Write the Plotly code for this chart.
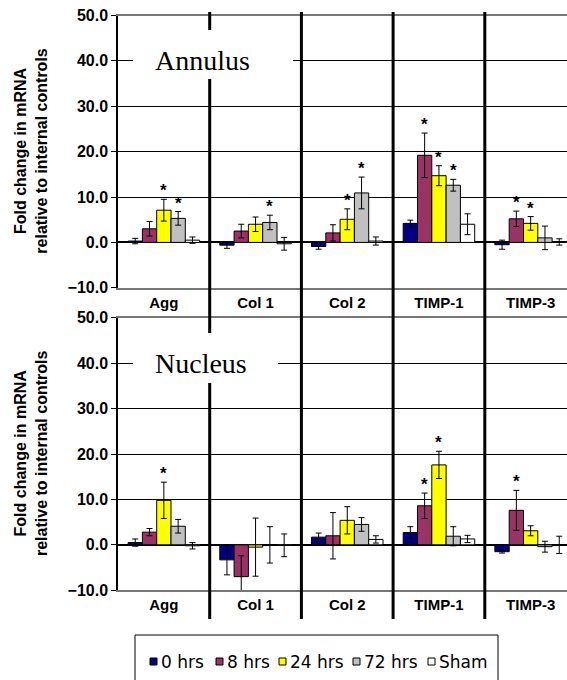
import plotly.graph_objects as go

# ---------------- data ----------------
categories = ["Agg", "Col 1", "Col 2", "TIMP-1", "TIMP-3"]
series_names = ["0 hrs", "8 hrs", "24 hrs", "72 hrs", "Sham"]
y_ticks = [-10, 0, 10, 20, 30, 40, 50]

# Annulus panel
annulus_0h = [0.3, -0.6, -0.9, 4.2, -0.5]
annulus_8h = [3.0, 2.5, 2.1, 19.2, 5.2]
annulus_24h = [7.1, 4.0, 5.1, 14.7, 4.2]
annulus_72h = [5.3, 4.4, 10.9, 12.6, 1.0]
annulus_sham = [0.5, -0.3, 0.3, 4.0, 0.1]
annulus_0h_err = [0.6, 0.7, 0.6, 0.7, 1.0]
annulus_8h_err = [1.6, 1.5, 1.8, 4.9, 1.7]
annulus_24h_err = [2.4, 1.6, 2.3, 2.2, 1.5]
annulus_72h_err = [1.5, 1.6, 3.5, 1.3, 2.6]
annulus_sham_err = [0.7, 1.4, 0.9, 2.3, 0.7]
annulus_0h_sig = [False, False, False, False, False]
annulus_8h_sig = [False, False, False, True, True]
annulus_24h_sig = [True, False, True, True, True]
annulus_72h_sig = [True, True, True, True, False]
annulus_sham_sig = [False, False, False, False, False]

# Nucleus panel
nucleus_0h = [0.5, -3.3, 1.7, 2.7, -1.5]
nucleus_8h = [2.8, -7.0, 2.0, 8.6, 7.6]
nucleus_24h = [9.8, -0.5, 5.4, 17.6, 3.1]
nucleus_72h = [4.1, 0.0, 4.5, 1.9, -0.4]
nucleus_sham = [-0.2, -0.1, 1.2, 1.3, 0.0]
nucleus_0h_err = [0.8, 3.3, 0.9, 1.3, 0.3]
nucleus_8h_err = [0.8, 4.6, 5.1, 2.8, 4.4]
nucleus_24h_err = [4.0, 6.4, 3.0, 3.0, 1.1]
nucleus_72h_err = [1.5, 4.0, 1.5, 2.1, 1.2]
nucleus_sham_err = [0.7, 2.5, 0.8, 0.8, 1.9]
nucleus_0h_sig = [False, False, False, False, False]
nucleus_8h_sig = [False, False, False, True, True]
nucleus_24h_sig = [True, False, False, True, False]
nucleus_72h_sig = [False, False, False, False, False]
nucleus_sham_sig = [False, False, False, False, False]

# ---------------- style ----------------
colors = ["#000080", "#993366", "#FFFF00", "#C0C0C0", "#FFFFFF"]
W, H = 567, 680
L = 118
BARGAP = 0.22
SANS = "Liberation Sans"

def px_x(px):
    return (px - L) / (W - L)

def px_y(py):
    return 1 - py / H

panels = [
    dict(label="Annulus", xa="x", ya="y",
         values=[annulus_0h, annulus_8h, annulus_24h, annulus_72h, annulus_sham],
         errs=[annulus_0h_err, annulus_8h_err, annulus_24h_err, annulus_72h_err, annulus_sham_err],
         sig=[annulus_0h_sig, annulus_8h_sig, annulus_24h_sig, annulus_72h_sig, annulus_sham_sig],
         top=15.5, bottom=287.8, label_pos=(202.5, 60), box=(133, 30, 293, 79)),
    dict(label="Nucleus", xa="x2", ya="y2",
         values=[nucleus_0h, nucleus_8h, nucleus_24h, nucleus_72h, nucleus_sham],
         errs=[nucleus_0h_err, nucleus_8h_err, nucleus_24h_err, nucleus_72h_err, nucleus_sham_err],
         sig=[nucleus_0h_sig, nucleus_8h_sig, nucleus_24h_sig, nucleus_72h_sig, nucleus_sham_sig],
         top=317.7, bottom=590.3, label_pos=(200.5, 363), box=(133, 333, 278, 383)),
]

fig = go.Figure()
annotations = []
shapes = []

n_series = len(series_names)
bar_w = (1 - BARGAP) / n_series

for p in panels:
    for i in range(n_series):
        fig.add_trace(go.Bar(
            x=categories, y=p["values"][i], name=series_names[i],
            xaxis=p["xa"], yaxis=p["ya"], showlegend=False,
            marker=dict(color=colors[i], line=dict(color="black", width=1)),
            error_y=dict(type="data", array=p["errs"][i], color="black",
                         thickness=1, width=3),
        ))
        for j, c in enumerate(categories):
            if p["sig"][i][j]:
                annotations.append(dict(
                    x=j - (1 - BARGAP) / 2 + bar_w * (i + 0.5),
                    y=p["values"][i][j] + p["errs"][i][j],
                    xref=p["xa"], yref=p["ya"], text="*", showarrow=False,
                    yanchor="bottom", yshift=-3,
                    font=dict(family=SANS, size=17, color="black", weight="bold"),
                ))

xaxis_common = dict(
    type="category", range=[-0.5, -0.5 + (W - L) / 91.7],
    showline=True, mirror=True, linecolor="#777777", linewidth=2,
    ticks="", showgrid=False, zeroline=False, automargin=False,
    tickfont=dict(family=SANS, size=15, color="black", weight="bold"),
)
yaxis_common = dict(
    range=[-10, 50], tickvals=y_ticks, tickformat=".1f",
    ticks="outside", ticklen=5, tickcolor="black", tickwidth=1,
    showline=True, linecolor="black", linewidth=1.5,
    showgrid=True, gridcolor="black", gridwidth=1,
    zeroline=True, zerolinecolor="black", zerolinewidth=2, automargin=False,
    tickfont=dict(family=SANS, size=16, color="black", weight="bold"),
)

layout_axes = {}
for p in panels:
    xkey = "xaxis" if p["xa"] == "x" else "xaxis2"
    ykey = "yaxis" if p["ya"] == "y" else "yaxis2"
    dom = [px_y(p["bottom"]), px_y(p["top"])]
    layout_axes[xkey] = dict(xaxis_common, anchor=p["ya"], domain=[0, 1])
    layout_axes[ykey] = dict(yaxis_common, anchor=p["xa"], domain=dom)

# category separators (continuous through both panels)
for k in range(len(categories) - 1):
    shapes.append(dict(type="line", xref="x", yref="paper",
                       x0=k + 0.5, x1=k + 0.5, y0=px_y(12), y1=px_y(619),
                       line=dict(color="black", width=3), layer="above"))

for p in panels:
    x0, y0, x1, y1 = p["box"]
    shapes.append(dict(type="rect", xref="paper", yref="paper",
                       x0=px_x(x0), x1=px_x(x1), y0=px_y(y1), y1=px_y(y0),
                       fillcolor="white", line=dict(width=0), layer="above"))
    lx, ly = p["label_pos"]
    annotations.append(dict(x=px_x(lx), y=px_y(ly), xref="paper", yref="paper",
                            text=p["label"], showarrow=False,
                            xanchor="center", yanchor="middle",
                            font=dict(family="Liberation Serif", size=28, color="black")))
    annotations.append(dict(x=px_x(31), y=px_y((p["top"] + p["bottom"]) / 2),
                            xref="paper", yref="paper", textangle=-90,
                            text="Fold change in mRNA<br>relative to internal controls",
                            showarrow=False, xanchor="center", yanchor="middle",
                            font=dict(family=SANS, size=16, color="black",
                                      weight="bold")))

# legend
shapes.append(dict(type="rect", xref="paper", yref="paper",
                   x0=px_x(135), x1=px_x(498), y0=px_y(700), y1=px_y(635),
                   line=dict(color="black", width=1), fillcolor="white", layer="above"))
legend_px = [150, 216, 279, 353, 428]
for i, name in enumerate(series_names):
    sx = legend_px[i]
    shapes.append(dict(type="rect", xref="paper", yref="paper",
                       x0=px_x(sx), x1=px_x(sx + 7), y0=px_y(665), y1=px_y(658),
                       fillcolor=colors[i], line=dict(color="black", width=1),
                       layer="above"))
    annotations.append(dict(x=px_x(sx + 9), y=px_y(661.5), xref="paper", yref="paper",
                            text=name, showarrow=False, xanchor="left", yanchor="middle",
                            font=dict(family="DejaVu Sans", size=17, color="black")))

fig.update_layout(
    width=W, height=H, margin=dict(l=L, r=0, t=0, b=0, autoexpand=False),
    barmode="group", bargap=BARGAP, bargroupgap=0,
    paper_bgcolor="white", plot_bgcolor="white", showlegend=False,
    annotations=annotations, shapes=shapes, **layout_axes,
)

fig.write_html("out.html", config={"displayModeBar": False},
               post_script="document.body.style.margin='0';")
